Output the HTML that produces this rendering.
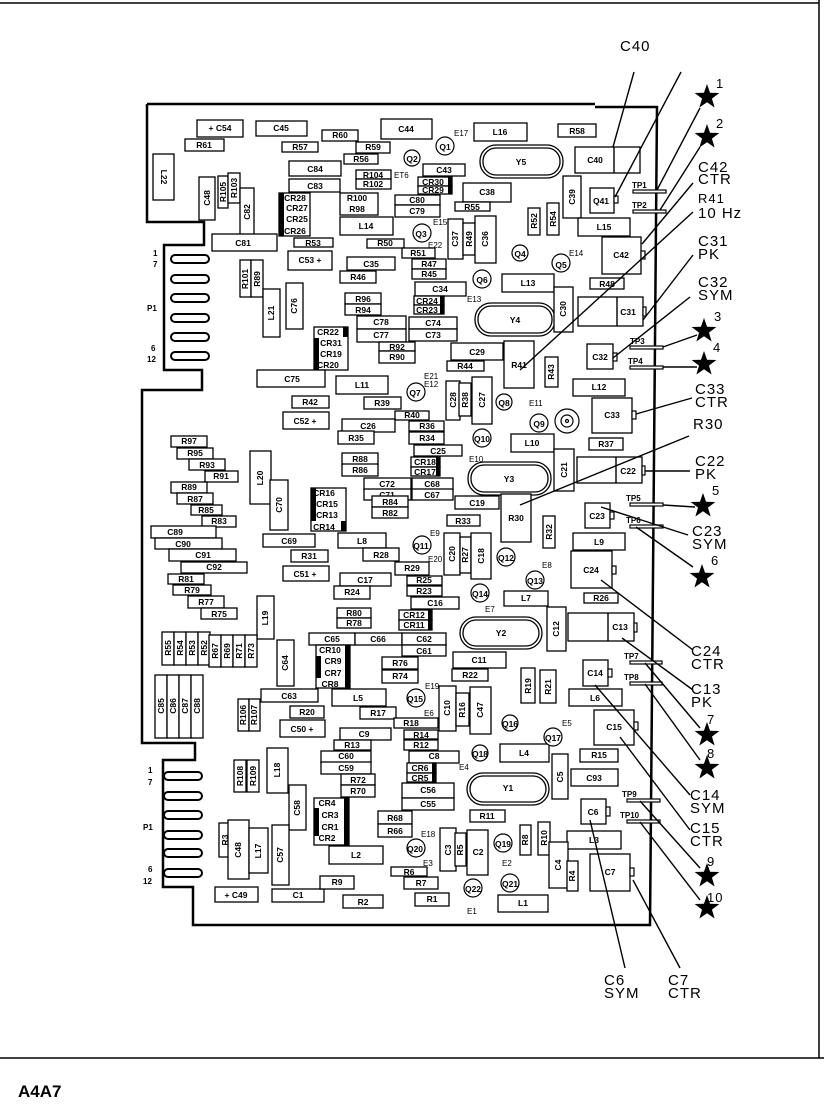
<!DOCTYPE html>
<html><head><meta charset="utf-8"><style>
html,body{margin:0;padding:0;background:#fff;}
svg{display:block;}
.b rect{fill:#fff;stroke:#000;stroke-width:1.3;}
.b text{font-family:"Liberation Sans",sans-serif;font-size:8.5px;font-weight:bold;text-anchor:middle;dominant-baseline:central;fill:#000;}
.q circle{fill:#fff;stroke:#000;stroke-width:1.2;}
.e{font-family:"Liberation Sans",sans-serif;font-size:8px;fill:#000;}
.l{stroke:#000;stroke-width:1.4;fill:none;}
.r{font-family:"Liberation Sans",sans-serif;font-size:15px;fill:#000;letter-spacing:1px;}
</style></head><body>
<svg width="824" height="1106" viewBox="0 0 824 1106" xmlns="http://www.w3.org/2000/svg">
<defs><polygon id="st" points="0,-13 3.06,-4.21 12.36,-4.02 4.95,1.61 7.64,10.52 0,5.2 -7.64,10.52 -4.95,1.61 -12.36,-4.02 -3.06,-4.21"/></defs>
<line x1="0" y1="3" x2="819" y2="3" stroke="#000" stroke-width="1.5"/>
<line x1="819" y1="0" x2="819" y2="1058" stroke="#000" stroke-width="1.5"/>
<line x1="0" y1="1058" x2="824" y2="1058" stroke="#000" stroke-width="1.5"/>
<text x="18" y="1097" font-family="Liberation Sans,sans-serif" font-size="17" font-weight="bold">A4A7</text>
<path d="M147,104 L595,104 M595,107 L657,107 L650,925 L193,925 L193,887 L163,887 L163,760 L195,760 L195,743 L142,743 L142,390 L202,390 L202,370 L164,370 L164,245 L204,245 L204,222 L147,222 L147,104" fill="none" stroke="#000" stroke-width="2.5"/>
<g fill="#fff" stroke="#000" stroke-width="2">
<rect x="171" y="255" width="38" height="8" rx="4"/><rect x="171" y="275" width="38" height="8" rx="4"/><rect x="171" y="294" width="38" height="8" rx="4"/><rect x="171" y="314" width="38" height="8" rx="4"/><rect x="171" y="333" width="38" height="8" rx="4"/><rect x="171" y="352" width="38" height="8" rx="4"/>
<rect x="164" y="772" width="38" height="8" rx="4"/><rect x="164" y="792" width="38" height="8" rx="4"/><rect x="164" y="811" width="38" height="8" rx="4"/><rect x="164" y="831" width="38" height="8" rx="4"/><rect x="164" y="849" width="38" height="8" rx="4"/><rect x="164" y="869" width="38" height="8" rx="4"/>
</g>
<g class="e" font-weight="bold" font-size="9">
<text x="153" y="256">1</text><text x="153" y="267">7</text><text x="147" y="311">P1</text><text x="151" y="351">6</text><text x="147" y="362">12</text>
<text x="148" y="773">1</text><text x="148" y="785">7</text><text x="143" y="830">P1</text><text x="148" y="872">6</text><text x="143" y="884">12</text>
</g>
<g fill="#fff" stroke="#000" stroke-width="1.3">
<rect x="480" y="145" width="83" height="33" rx="16"/><rect x="483" y="148" width="77" height="27" rx="13"/>
<rect x="475" y="303" width="80" height="33" rx="16"/><rect x="478" y="306" width="74" height="27" rx="13"/>
<rect x="468" y="462" width="83" height="33" rx="16"/><rect x="471" y="465" width="77" height="27" rx="13"/>
<rect x="460" y="617" width="82" height="32" rx="16"/><rect x="463" y="620" width="76" height="26" rx="13"/>
<rect x="467" y="773" width="82" height="32" rx="16"/><rect x="470" y="776" width="76" height="26" rx="13"/>
</g>
<g class="b">
<text x="521" y="162">Y5</text><text x="515" y="320">Y4</text><text x="509" y="479">Y3</text><text x="501" y="633">Y2</text><text x="508" y="788">Y1</text>
</g>
<g class="b">
<rect x="197" y="120" width="46" height="17"/><text x="220" y="128">+ C54</text>
<rect x="256" y="121" width="51" height="15"/><text x="281" y="128">C45</text>
<rect x="185" y="139" width="39" height="12"/><text x="204" y="145">R61</text>
<rect x="282" y="142" width="36" height="10"/><text x="300" y="147">R57</text>
<rect x="322" y="130" width="36" height="11"/><text x="340" y="135">R60</text>
<rect x="356" y="142" width="34" height="11"/><text x="373" y="147">R59</text>
<rect x="344" y="154" width="34" height="10"/><text x="361" y="159">R56</text>
<rect x="381" y="119" width="51" height="20"/><text x="406" y="129">C44</text>
<rect x="474" y="123" width="53" height="18"/><text x="500" y="132">L16</text>
<rect x="558" y="124" width="38" height="13"/><text x="577" y="131">R58</text>
<rect x="575" y="147" width="65" height="26"/><text x="595" y="160">C40</text>
<rect x="153" y="154" width="21" height="46"/><text transform="rotate(90 164 177)" x="164" y="177">L22</text>
<rect x="199" y="177" width="16" height="43"/><text transform="rotate(-90 207 198)" x="207" y="198">C48</text>
<rect x="218" y="176" width="10" height="32"/><text transform="rotate(-90 223 192)" x="223" y="192">R105</text>
<rect x="228" y="173" width="12" height="30"/><text transform="rotate(-90 234 188)" x="234" y="188">R103</text>
<rect x="240" y="188" width="14" height="47"/><text transform="rotate(-90 247 212)" x="247" y="212">C82</text>
<rect x="289" y="161" width="52" height="15"/><text x="315" y="169">C84</text>
<rect x="289" y="179" width="51" height="13"/><text x="315" y="186">C83</text>
<rect x="356" y="170" width="35" height="9"/><text x="373" y="175">R104</text>
<rect x="356" y="179" width="35" height="10"/><text x="373" y="184">R102</text>
<rect x="423" y="164" width="42" height="12"/><text x="444" y="170">C43</text>
<rect x="418" y="177" width="34" height="9"/><text x="433" y="182">CR30</text>
<rect x="418" y="186" width="34" height="8"/><text x="433" y="190">CR29</text>
<rect x="463" y="183" width="48" height="19"/><text x="487" y="192">C38</text>
<rect x="455" y="202" width="35" height="9"/><text x="472" y="207">R55</text>
<rect x="340" y="193" width="38" height="22"/><text x="357" y="198">R100</text><text x="357" y="209">R98</text>
<rect x="395" y="195" width="45" height="10"/><text x="417" y="200">C80</text>
<rect x="395" y="205" width="45" height="12"/><text x="417" y="211">C79</text>
<rect x="279" y="193" width="31" height="43"/><text x="295" y="198">CR28</text><text x="297" y="208">CR27</text><text x="297" y="219">CR25</text><text x="295" y="231">CR26</text>
<rect x="340" y="217" width="53" height="18"/><text x="366" y="226">L14</text>
<rect x="212" y="234" width="65" height="17"/><text x="243" y="243">C81</text>
<rect x="294" y="238" width="39" height="9"/><text x="313" y="243">R53</text>
<rect x="367" y="239" width="37" height="9"/><text x="385" y="243">R50</text>
<rect x="448" y="219" width="15" height="40"/><text transform="rotate(-90 455 239)" x="455" y="239">C37</text>
<rect x="463" y="223" width="12" height="32"/><text transform="rotate(-90 469 239)" x="469" y="239">R49</text>
<rect x="475" y="216" width="21" height="47"/><text transform="rotate(-90 485 239)" x="485" y="239">C36</text>
<rect x="528" y="208" width="12" height="27"/><text transform="rotate(-90 534 221)" x="534" y="221">R52</text>
<rect x="547" y="203" width="12" height="32"/><text transform="rotate(-90 553 219)" x="553" y="219">R54</text>
<rect x="563" y="176" width="18" height="42"/><text transform="rotate(-90 572 197)" x="572" y="197">C39</text>
<rect x="590" y="188" width="24" height="25"/><text x="601" y="201" font-size="6">Q41</text>
<rect x="578" y="218" width="52" height="18"/><text x="604" y="227">L15</text>
<rect x="602" y="237" width="39" height="37"/><text x="621" y="255">C42</text>
<rect x="288" y="251" width="44" height="19"/><text x="310" y="260">C53 +</text>
<rect x="347" y="257" width="48" height="13"/><text x="371" y="264">C35</text>
<rect x="340" y="271" width="36" height="12"/><text x="358" y="277">R46</text>
<rect x="402" y="248" width="33" height="10"/><text x="418" y="253">R51</text>
<rect x="412" y="259" width="34" height="10"/><text x="429" y="264">R47</text>
<rect x="412" y="269" width="34" height="10"/><text x="429" y="274">R45</text>
<rect x="415" y="282" width="51" height="14"/><text x="440" y="289">C34</text>
<rect x="502" y="274" width="52" height="18"/><text x="528" y="283">L13</text>
<rect x="590" y="278" width="34" height="11"/><text x="607" y="284">R48</text>
<rect x="554" y="287" width="19" height="45"/><text transform="rotate(-90 563 309)" x="563" y="309">C30</text>
<rect x="578" y="297" width="65" height="29"/><text x="628" y="312">C31</text>
<rect x="240" y="260" width="11" height="37"/><text transform="rotate(-90 245 279)" x="245" y="279">R101</text>
<rect x="251" y="260" width="12" height="37"/><text transform="rotate(-90 257 279)" x="257" y="279">R89</text>
<rect x="263" y="289" width="17" height="48"/><text transform="rotate(-90 271 313)" x="271" y="313">L21</text>
<rect x="286" y="283" width="17" height="46"/><text transform="rotate(-90 294 306)" x="294" y="306">C76</text>
<rect x="345" y="293" width="36" height="11"/><text x="363" y="299">R96</text>
<rect x="345" y="304" width="36" height="11"/><text x="363" y="310">R94</text>
<rect x="414" y="296" width="30" height="9"/><text x="427" y="301">CR24</text>
<rect x="414" y="305" width="30" height="9"/><text x="427" y="310">CR23</text>
<rect x="357" y="316" width="49" height="13"/><text x="381" y="322">C78</text>
<rect x="357" y="329" width="49" height="13"/><text x="381" y="335">C77</text>
<rect x="409" y="317" width="48" height="12"/><text x="433" y="323">C74</text>
<rect x="409" y="329" width="48" height="12"/><text x="433" y="335">C73</text>
<rect x="314" y="327" width="34" height="43"/><text x="328" y="332">CR22</text><text x="331" y="343">CR31</text><text x="331" y="354">CR19</text><text x="328" y="365">CR20</text>
<rect x="379" y="342" width="36" height="9"/><text x="397" y="347">R92</text>
<rect x="379" y="351" width="36" height="12"/><text x="397" y="357">R90</text>
<rect x="451" y="343" width="52" height="17"/><text x="477" y="352">C29</text>
<rect x="447" y="361" width="37" height="10"/><text x="465" y="366">R44</text>
<rect x="504" y="341" width="30" height="47"/><text x="519" y="365">R41</text>
<rect x="545" y="357" width="13" height="30"/><text transform="rotate(-90 551 372)" x="551" y="372">R43</text>
<rect x="587" y="344" width="26" height="25"/><text x="600" y="357">C32</text>
<rect x="257" y="370" width="68" height="17"/><text x="292" y="379">C75</text>
<rect x="336" y="376" width="52" height="18"/><text x="362" y="385">L11</text>
<rect x="446" y="381" width="14" height="39"/><text transform="rotate(-90 453 400)" x="453" y="400">C28</text>
<rect x="459" y="383" width="12" height="33"/><text transform="rotate(-90 465 400)" x="465" y="400">R38</text>
<rect x="472" y="377" width="20" height="47"/><text transform="rotate(-90 482 400)" x="482" y="400">C27</text>
<rect x="573" y="379" width="52" height="17"/><text x="599" y="387">L12</text>
<rect x="592" y="398" width="40" height="35"/><text x="612" y="415">C33</text>
<rect x="292" y="396" width="37" height="12"/><text x="310" y="402">R42</text>
<rect x="364" y="397" width="37" height="12"/><text x="382" y="403">R39</text>
<rect x="395" y="411" width="34" height="9"/><text x="412" y="415">R40</text>
<rect x="283" y="412" width="46" height="17"/><text x="305" y="421">C52 +</text>
<rect x="342" y="419" width="53" height="13"/><text x="368" y="426">C26</text>
<rect x="409" y="421" width="35" height="10"/><text x="427" y="426">R36</text>
<rect x="338" y="431" width="36" height="13"/><text x="356" y="438">R35</text>
<rect x="409" y="432" width="35" height="12"/><text x="427" y="438">R34</text>
<rect x="414" y="445" width="48" height="11"/><text x="438" y="451">C25</text>
<rect x="511" y="434" width="43" height="18"/><text x="532" y="443">L10</text>
<rect x="589" y="438" width="34" height="12"/><text x="606" y="444">R37</text>
<rect x="554" y="449" width="20" height="42"/><text transform="rotate(-90 564 470)" x="564" y="470">C21</text>
<rect x="577" y="457" width="65" height="26"/><text x="628" y="471">C22</text>
<rect x="342" y="453" width="36" height="12"/><text x="360" y="459">R88</text>
<rect x="342" y="464" width="36" height="12"/><text x="360" y="470">R86</text>
<rect x="411" y="457" width="29" height="10"/><text x="425" y="462">CR18</text>
<rect x="411" y="467" width="29" height="9"/><text x="425" y="472">CR17</text>
<rect x="364" y="478" width="47" height="12"/><text x="387" y="484">C72</text>
<rect x="412" y="478" width="41" height="12"/><text x="432" y="484">C68</text>
<rect x="364" y="489" width="47" height="11"/><text x="387" y="495">C71</text>
<rect x="412" y="489" width="41" height="11"/><text x="432" y="495">C67</text>
<rect x="171" y="436" width="36" height="11"/><text x="189" y="441">R97</text>
<rect x="177" y="448" width="36" height="11"/><text x="195" y="453">R95</text>
<rect x="189" y="459" width="36" height="11"/><text x="207" y="465">R93</text>
<rect x="205" y="471" width="33" height="11"/><text x="221" y="476">R91</text>
<rect x="171" y="482" width="36" height="11"/><text x="189" y="487">R89</text>
<rect x="177" y="493" width="36" height="11"/><text x="195" y="499">R87</text>
<rect x="250" y="451" width="21" height="53"/><text transform="rotate(-90 260 478)" x="260" y="478">L20</text>
<rect x="191" y="505" width="31" height="10"/><text x="206" y="510">R85</text>
<rect x="202" y="516" width="34" height="11"/><text x="219" y="521">R83</text>
<rect x="270" y="480" width="18" height="50"/><text transform="rotate(-90 279 505)" x="279" y="505">C70</text>
<rect x="311" y="488" width="35" height="43"/><text x="324" y="493">CR16</text><text x="327" y="504">CR15</text><text x="327" y="515">CR13</text><text x="324" y="527">CR14</text>
<rect x="372" y="496" width="36" height="11"/><text x="390" y="502">R84</text>
<rect x="372" y="507" width="36" height="11"/><text x="390" y="513">R82</text>
<rect x="455" y="496" width="44" height="13"/><text x="477" y="503">C19</text>
<rect x="501" y="494" width="30" height="48"/><text x="516" y="518">R30</text>
<rect x="447" y="515" width="33" height="11"/><text x="463" y="521">R33</text>
<rect x="543" y="516" width="12" height="32"/><text transform="rotate(-90 549 532)" x="549" y="532">R32</text>
<rect x="585" y="503" width="25" height="25"/><text x="597" y="516">C23</text>
<rect x="573" y="533" width="52" height="17"/><text x="599" y="542">L9</text>
<rect x="571" y="551" width="41" height="37"/><text x="591" y="570">C24</text>
<rect x="151" y="526" width="65" height="12"/><text x="175" y="532">C89</text>
<rect x="155" y="538" width="67" height="11"/><text x="183" y="544">C90</text>
<rect x="169" y="549" width="67" height="12"/><text x="203" y="555">C91</text>
<rect x="181" y="562" width="66" height="11"/><text x="214" y="567">C92</text>
<rect x="263" y="534" width="52" height="13"/><text x="289" y="541">C69</text>
<rect x="338" y="533" width="48" height="15"/><text x="362" y="541">L8</text>
<rect x="291" y="550" width="37" height="12"/><text x="309" y="556">R31</text>
<rect x="363" y="548" width="36" height="13"/><text x="381" y="555">R28</text>
<rect x="444" y="533" width="16" height="42"/><text transform="rotate(-90 452 554)" x="452" y="554">C20</text>
<rect x="460" y="537" width="11" height="36"/><text transform="rotate(-90 465 555)" x="465" y="555">R27</text>
<rect x="471" y="533" width="20" height="46"/><text transform="rotate(-90 481 556)" x="481" y="556">C18</text>
<rect x="283" y="566" width="46" height="15"/><text x="305" y="574">C51 +</text>
<rect x="395" y="562" width="34" height="13"/><text x="412" y="568">R29</text>
<rect x="340" y="573" width="51" height="13"/><text x="365" y="580">C17</text>
<rect x="407" y="576" width="35" height="9"/><text x="424" y="580">R25</text>
<rect x="334" y="586" width="36" height="13"/><text x="352" y="592">R24</text>
<rect x="407" y="586" width="35" height="10"/><text x="424" y="591">R23</text>
<rect x="411" y="597" width="48" height="12"/><text x="435" y="603">C16</text>
<rect x="504" y="591" width="44" height="15"/><text x="526" y="598">L7</text>
<rect x="584" y="593" width="34" height="10"/><text x="601" y="598">R26</text>
<rect x="547" y="607" width="19" height="44"/><text transform="rotate(-90 556 629)" x="556" y="629">C12</text>
<rect x="568" y="613" width="66" height="28"/><text x="620" y="627">C13</text>
<rect x="168" y="574" width="36" height="10"/><text x="186" y="579">R81</text>
<rect x="173" y="585" width="38" height="10"/><text x="192" y="590">R79</text>
<rect x="188" y="596" width="36" height="12"/><text x="206" y="602">R77</text>
<rect x="201" y="608" width="36" height="11"/><text x="219" y="614">R75</text>
<rect x="257" y="596" width="17" height="43"/><text transform="rotate(-90 265 618)" x="265" y="618">L19</text>
<rect x="337" y="608" width="34" height="10"/><text x="354" y="613">R80</text>
<rect x="337" y="618" width="34" height="10"/><text x="354" y="623">R78</text>
<rect x="399" y="610" width="33" height="10"/><text x="414" y="615">CR12</text>
<rect x="399" y="620" width="33" height="10"/><text x="414" y="625">CR11</text>
<rect x="162" y="632" width="12" height="33"/><rect x="174" y="632" width="12" height="33"/><rect x="186" y="632" width="12" height="33"/><rect x="198" y="632" width="12" height="33"/>
<text transform="rotate(-90 168 648)" x="168" y="648">R55</text><text transform="rotate(-90 180 648)" x="180" y="648">R54</text><text transform="rotate(-90 192 648)" x="192" y="648">R53</text><text transform="rotate(-90 204 648)" x="204" y="648">R52</text>
<rect x="209" y="635" width="12" height="32"/><rect x="221" y="635" width="12" height="32"/><rect x="233" y="635" width="12" height="32"/><rect x="245" y="635" width="12" height="32"/>
<text transform="rotate(-90 215 651)" x="215" y="651">R67</text><text transform="rotate(-90 227 651)" x="227" y="651">R69</text><text transform="rotate(-90 239 651)" x="239" y="651">R71</text><text transform="rotate(-90 251 651)" x="251" y="651">R73</text>
<rect x="309" y="633" width="46" height="12"/><text x="332" y="639">C65</text>
<rect x="355" y="633" width="47" height="12"/><text x="378" y="639">C66</text>
<rect x="402" y="633" width="44" height="12"/><text x="424" y="639">C62</text>
<rect x="402" y="645" width="44" height="11"/><text x="424" y="651">C61</text>
<rect x="316" y="645" width="34" height="43"/><text x="330" y="650">CR10</text><text x="333" y="661">CR9</text><text x="333" y="673">CR7</text><text x="330" y="684">CR8</text>
<rect x="277" y="640" width="17" height="46"/><text transform="rotate(-90 285 663)" x="285" y="663">C64</text>
<rect x="382" y="657" width="36" height="12"/><text x="400" y="663">R76</text>
<rect x="382" y="670" width="36" height="13"/><text x="400" y="676">R74</text>
<rect x="453" y="652" width="53" height="16"/><text x="479" y="660">C11</text>
<rect x="452" y="669" width="36" height="12"/><text x="470" y="675">R22</text>
<rect x="521" y="668" width="14" height="35"/><text transform="rotate(-90 528 686)" x="528" y="686">R19</text>
<rect x="540" y="670" width="16" height="33"/><text transform="rotate(-90 548 687)" x="548" y="687">R21</text>
<rect x="583" y="660" width="25" height="26"/><text x="595" y="673">C14</text>
<rect x="569" y="689" width="53" height="17"/><text x="595" y="698">L6</text>
<rect x="155" y="675" width="12" height="63"/><rect x="167" y="675" width="12" height="63"/><rect x="179" y="675" width="12" height="63"/><rect x="191" y="675" width="12" height="63"/>
<text transform="rotate(-90 161 706)" x="161" y="706">C85</text><text transform="rotate(-90 173 706)" x="173" y="706">C86</text><text transform="rotate(-90 185 706)" x="185" y="706">C87</text><text transform="rotate(-90 197 706)" x="197" y="706">C88</text>
<rect x="261" y="689" width="57" height="13"/><text x="289" y="696">C63</text>
<rect x="332" y="689" width="54" height="17"/><text x="358" y="698">L5</text>
<rect x="238" y="699" width="11" height="32"/><text transform="rotate(-90 243 715)" x="243" y="715">R106</text>
<rect x="249" y="699" width="11" height="32"/><text transform="rotate(-90 254 715)" x="254" y="715">R107</text>
<rect x="290" y="706" width="34" height="12"/><text x="307" y="712">R20</text>
<rect x="360" y="707" width="36" height="12"/><text x="378" y="713">R17</text>
<rect x="439" y="686" width="17" height="45"/><text transform="rotate(-90 447 708)" x="447" y="708">C10</text>
<rect x="456" y="693" width="13" height="33"/><text transform="rotate(-90 462 710)" x="462" y="710">R16</text>
<rect x="470" y="687" width="21" height="47"/><text transform="rotate(-90 480 710)" x="480" y="710">C47</text>
<rect x="594" y="710" width="40" height="35"/><text x="614" y="727">C15</text>
<rect x="280" y="720" width="45" height="17"/><text x="302" y="729">C50 +</text>
<rect x="394" y="718" width="44" height="10"/><text x="411" y="723">R18</text>
<rect x="340" y="728" width="51" height="12"/><text x="364" y="734">C9</text>
<rect x="404" y="730" width="34" height="9"/><text x="421" y="735">R14</text>
<rect x="334" y="740" width="37" height="10"/><text x="352" y="745">R13</text>
<rect x="404" y="740" width="34" height="10"/><text x="421" y="745">R12</text>
<rect x="500" y="744" width="49" height="18"/><text x="524" y="753">L4</text>
<rect x="580" y="749" width="38" height="13"/><text x="599" y="755">R15</text>
<rect x="409" y="751" width="50" height="12"/><text x="434" y="756">C8</text>
<rect x="321" y="751" width="50" height="12"/><text x="346" y="756">C60</text>
<rect x="321" y="762" width="50" height="12"/><text x="346" y="768">C59</text>
<rect x="267" y="748" width="21" height="45"/><text transform="rotate(-90 277 770)" x="277" y="770">L18</text>
<rect x="234" y="760" width="12" height="32"/><text transform="rotate(-90 240 776)" x="240" y="776">R108</text>
<rect x="247" y="760" width="12" height="32"/><text transform="rotate(-90 253 776)" x="253" y="776">R109</text>
<rect x="552" y="754" width="16" height="45"/><text transform="rotate(-90 560 777)" x="560" y="777">C5</text>
<rect x="571" y="769" width="47" height="17"/><text x="594" y="778">C93</text>
<rect x="407" y="763" width="29" height="10"/><text x="420" y="768">CR6</text>
<rect x="407" y="773" width="29" height="9"/><text x="420" y="778">CR5</text>
<rect x="341" y="774" width="34" height="11"/><text x="358" y="780">R72</text>
<rect x="341" y="785" width="34" height="12"/><text x="358" y="791">R70</text>
<rect x="402" y="783" width="52" height="15"/><text x="428" y="790">C56</text>
<rect x="402" y="798" width="52" height="12"/><text x="428" y="804">C55</text>
<rect x="289" y="785" width="17" height="45"/><text transform="rotate(-90 297 808)" x="297" y="808">C58</text>
<rect x="314" y="798" width="35" height="47"/><text x="327" y="803">CR4</text><text x="330" y="815">CR3</text><text x="330" y="827">CR1</text><text x="327" y="838">CR2</text>
<rect x="581" y="799" width="25" height="25"/><text x="593" y="812">C6</text>
<rect x="378" y="811" width="34" height="13"/><text x="395" y="818">R68</text>
<rect x="378" y="824" width="34" height="13"/><text x="395" y="831">R66</text>
<rect x="470" y="810" width="35" height="12"/><text x="487" y="816">R11</text>
<rect x="219" y="823" width="12" height="34"/><text transform="rotate(-90 225 840)" x="225" y="840">R3</text>
<rect x="228" y="820" width="21" height="59"/><text transform="rotate(-90 238 850)" x="238" y="850">C48</text>
<rect x="249" y="828" width="19" height="45"/><text transform="rotate(-90 258 851)" x="258" y="851">L17</text>
<rect x="272" y="825" width="17" height="60"/><text transform="rotate(-90 280 855)" x="280" y="855">C57</text>
<rect x="329" y="846" width="54" height="18"/><text x="356" y="855">L2</text>
<rect x="440" y="828" width="16" height="43"/><text transform="rotate(-90 448 850)" x="448" y="850">C3</text>
<rect x="455" y="833" width="11" height="33"/><text transform="rotate(-90 460 850)" x="460" y="850">R5</text>
<rect x="467" y="830" width="21" height="45"/><text x="478" y="852">C2</text>
<rect x="520" y="825" width="11" height="30"/><text transform="rotate(-90 525 840)" x="525" y="840">R8</text>
<rect x="538" y="822" width="12" height="33"/><text transform="rotate(-90 544 838)" x="544" y="838">R10</text>
<rect x="567" y="831" width="54" height="18"/><text x="594" y="840">L3</text>
<rect x="549" y="842" width="19" height="46"/><text transform="rotate(-90 558 865)" x="558" y="865">C4</text>
<rect x="567" y="861" width="11" height="30"/><text transform="rotate(-90 572 876)" x="572" y="876">R4</text>
<rect x="590" y="854" width="40" height="37"/><text x="610" y="872">C7</text>
<rect x="391" y="867" width="36" height="9"/><text x="409" y="872">R6</text>
<rect x="404" y="877" width="34" height="12"/><text x="421" y="883">R7</text>
<rect x="415" y="893" width="34" height="13"/><text x="432" y="899">R1</text>
<rect x="498" y="895" width="50" height="17"/><text x="523" y="903">L1</text>
<rect x="215" y="887" width="43" height="15"/><text x="236" y="895">+ C49</text>
<rect x="272" y="889" width="52" height="13"/><text x="298" y="895">C1</text>
<rect x="320" y="876" width="34" height="13"/><text x="337" y="882">R9</text>
<rect x="343" y="895" width="40" height="13"/><text x="363" y="902">R2</text>
</g>
<g fill="#000">
<rect x="279" y="193" width="5" height="43"/><rect x="314" y="338" width="5" height="32"/><rect x="343" y="327" width="5" height="10"/>
<rect x="448" y="177" width="4" height="17"/><rect x="440" y="296" width="4" height="18"/><rect x="436" y="457" width="4" height="19"/>
<rect x="311" y="488" width="5" height="33"/><rect x="341" y="521" width="5" height="10"/><rect x="428" y="610" width="4" height="20"/>
<rect x="316" y="656" width="5" height="22"/><rect x="345" y="645" width="5" height="43"/><rect x="432" y="763" width="4" height="19"/>
<rect x="314" y="808" width="5" height="28"/><rect x="344" y="798" width="5" height="47"/>
</g>
<g fill="#fff" stroke="#000" stroke-width="1.2">
<rect x="614" y="196" width="4" height="7"/><rect x="641" y="251" width="4" height="8"/><rect x="643" y="307" width="3" height="9"/><rect x="613" y="353" width="4" height="8"/>
<rect x="632" y="411" width="4" height="8"/><rect x="642" y="466" width="3" height="9"/><rect x="610" y="512" width="4" height="7"/><rect x="612" y="566" width="4" height="8"/>
<rect x="634" y="623" width="3" height="9"/><rect x="608" y="669" width="4" height="8"/><rect x="634" y="722" width="4" height="8"/><rect x="606" y="807" width="4" height="9"/><rect x="630" y="868" width="4" height="8"/>
</g>
<g class="l"><line x1="614" y1="147" x2="614" y2="173"/><line x1="617" y1="297" x2="617" y2="326"/><line x1="616" y1="457" x2="616" y2="483"/><line x1="608" y1="613" x2="608" y2="641"/></g>
<g class="q">
<circle cx="445" cy="146" r="9"/><circle cx="412" cy="158" r="8"/><circle cx="422" cy="233" r="9"/><circle cx="520" cy="253" r="8"/><circle cx="561" cy="263" r="9"/>
<circle cx="482" cy="279" r="9"/><circle cx="416" cy="392" r="9"/><circle cx="504" cy="402" r="8"/><circle cx="539" cy="423" r="9"/><circle cx="482" cy="438" r="9"/>
<circle cx="422" cy="545" r="9"/><circle cx="506" cy="557" r="9"/><circle cx="535" cy="580" r="9"/><circle cx="480" cy="593" r="9"/><circle cx="416" cy="698" r="9"/>
<circle cx="510" cy="723" r="8"/><circle cx="553" cy="737" r="9"/><circle cx="480" cy="753" r="8"/><circle cx="416" cy="848" r="9"/><circle cx="503" cy="843" r="9"/>
<circle cx="510" cy="883" r="9"/><circle cx="473" cy="888" r="9"/>
<circle cx="567" cy="421" r="12"/><circle cx="567" cy="421" r="6"/><circle cx="567" cy="421" r="1.5" fill="#000"/>
</g>
<g class="b" font-size="7">
<text x="445" y="147">Q1</text><text x="412" y="159">Q2</text><text x="421" y="234">Q3</text><text x="520" y="254">Q4</text><text x="561" y="265">Q5</text>
<text x="482" y="280">Q6</text><text x="415" y="393">Q7</text><text x="504" y="403">Q8</text><text x="539" y="424">Q9</text><text x="482" y="439">Q10</text>
<text x="421" y="546">Q11</text><text x="506" y="558">Q12</text><text x="535" y="581">Q13</text><text x="480" y="594">Q14</text><text x="415" y="699">Q15</text>
<text x="510" y="724">Q16</text><text x="553" y="738">Q17</text><text x="480" y="754">Q18</text><text x="415" y="849">Q20</text><text x="503" y="844">Q19</text>
<text x="510" y="884">Q21</text><text x="473" y="889">Q22</text>
</g>
<g class="e">
<text x="454" y="136">E17</text><text x="394" y="178">ET6</text><text x="433" y="225">E15</text><text x="428" y="248">E22</text><text x="569" y="256">E14</text>
<text x="467" y="302">E13</text><text x="424" y="379">E21</text><text x="424" y="387">E12</text><text x="529" y="406">E11</text><text x="469" y="462">E10</text>
<text x="430" y="536">E9</text><text x="428" y="562">E20</text><text x="542" y="568">E8</text><text x="485" y="612">E7</text><text x="425" y="689">E19</text>
<text x="424" y="716">E6</text><text x="562" y="726">E5</text><text x="459" y="770">E4</text><text x="421" y="837">E18</text><text x="423" y="866">E3</text>
<text x="502" y="866">E2</text><text x="467" y="914">E1</text>
</g>
<g fill="#fff" stroke="#000" stroke-width="1.2">
<rect x="633" y="190" width="33" height="3"/><rect x="633" y="210" width="33" height="3"/><rect x="630" y="346" width="33" height="3"/><rect x="630" y="366" width="33" height="3"/>
<rect x="630" y="503" width="33" height="3"/><rect x="630" y="525" width="33" height="3"/><rect x="630" y="661" width="32" height="3"/><rect x="630" y="682" width="32" height="3"/>
<rect x="627" y="799" width="33" height="3"/><rect x="627" y="820" width="33" height="3"/>
</g>
<g class="e" font-weight="bold">
<text x="632" y="188">TP1</text><text x="632" y="208">TP2</text><text x="630" y="344">TP3</text><text x="628" y="364">TP4</text>
<text x="626" y="501">TP5</text><text x="626" y="523">TP6</text><text x="624" y="659">TP7</text><text x="624" y="680">TP8</text>
<text x="622" y="797">TP9</text><text x="620" y="818">TP10</text>
</g>
<g class="l">
<line x1="634" y1="72" x2="613" y2="147"/><line x1="681" y1="72" x2="615" y2="197"/>
<line x1="700" y1="108" x2="657" y2="190"/><line x1="700" y1="147" x2="660" y2="210"/>
<line x1="693" y1="183" x2="642" y2="244"/><line x1="693" y1="212" x2="520" y2="370"/>
<line x1="693" y1="255" x2="643" y2="320"/><line x1="690" y1="297" x2="613" y2="358"/>
<line x1="697" y1="335" x2="663" y2="347"/><line x1="697" y1="367" x2="663" y2="367"/>
<line x1="692" y1="398" x2="636" y2="414"/><line x1="689" y1="436" x2="520" y2="505"/>
<line x1="690" y1="471" x2="645" y2="471"/><line x1="695" y1="507" x2="663" y2="505"/>
<line x1="688" y1="535" x2="601" y2="507"/><line x1="693" y1="567" x2="636" y2="527"/>
<line x1="693" y1="650" x2="601" y2="580"/><line x1="693" y1="690" x2="622" y2="638"/>
<line x1="700" y1="728" x2="645" y2="663"/><line x1="700" y1="760" x2="645" y2="684"/>
<line x1="690" y1="795" x2="595" y2="685"/><line x1="690" y1="830" x2="620" y2="737"/>
<line x1="700" y1="868" x2="640" y2="801"/><line x1="700" y1="900" x2="640" y2="822"/>
<line x1="625" y1="968" x2="590" y2="820"/><line x1="680" y1="968" x2="633" y2="880"/>
</g>
<g fill="#000">
<use href="#st" x="707" y="97"/><use href="#st" x="707" y="137"/><use href="#st" x="704" y="331"/><use href="#st" x="704" y="364"/>
<use href="#st" x="703" y="506"/><use href="#st" x="702" y="577"/><use href="#st" x="707" y="735"/><use href="#st" x="707" y="768"/>
<use href="#st" x="707" y="876"/><use href="#st" x="707" y="908"/>
</g>
<g class="r">
<text x="620" y="51">C40</text>
<text x="716" y="88" font-size="13">1</text><text x="716" y="128" font-size="13">2</text>
<text x="698" y="172">C42</text><text x="698" y="184">CTR</text>
<text x="698" y="203" font-size="13">R41</text><text x="698" y="218">10 Hz</text>
<text x="698" y="246">C31</text><text x="698" y="259">PK</text>
<text x="698" y="287">C32</text><text x="698" y="300">SYM</text>
<text x="714" y="321" font-size="13">3</text><text x="713" y="352" font-size="13">4</text>
<text x="695" y="394">C33</text><text x="695" y="407">CTR</text>
<text x="693" y="429">R30</text>
<text x="695" y="466">C22</text><text x="695" y="479">PK</text>
<text x="712" y="495" font-size="13">5</text>
<text x="692" y="536">C23</text><text x="692" y="549">SYM</text>
<text x="711" y="565" font-size="13">6</text>
<text x="691" y="656">C24</text><text x="691" y="669">CTR</text>
<text x="691" y="694">C13</text><text x="691" y="707">PK</text>
<text x="707" y="724" font-size="13">7</text><text x="707" y="758" font-size="13">8</text>
<text x="690" y="800">C14</text><text x="690" y="813">SYM</text>
<text x="690" y="833">C15</text><text x="690" y="846">CTR</text>
<text x="707" y="866" font-size="13">9</text><text x="707" y="902" font-size="13">10</text>
<text x="604" y="985">C6</text><text x="604" y="998">SYM</text>
<text x="668" y="985">C7</text><text x="668" y="998">CTR</text>
</g>
</svg>
</body></html>
